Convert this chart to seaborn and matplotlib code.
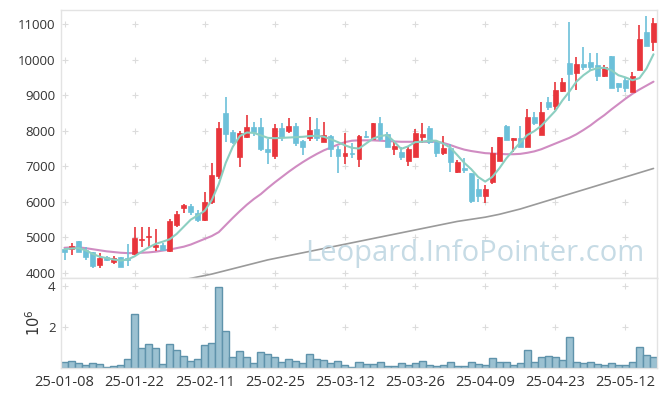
import numpy as np
import pandas as pd
import matplotlib
matplotlib.use("Agg")
import matplotlib.pyplot as plt
import seaborn as sns

# ---------------- data ----------------
tick_pos = [0, 10, 20, 30, 40, 50, 60, 70, 80]
tick_labels = ["25-01-08", "25-01-22", "25-02-11", "25-02-25", "25-03-12",
               "25-03-26", "25-04-09", "25-04-23", "25-05-12"]

opens = [4687, 4676, 4893, 4659, 4592, 4237, 4451, 4321, 4451, 4434,
         4527, 4940, 5014, 4732, 4780, 4620, 5363, 5842, 5887, 5701,
         5484, 6000, 6724, 8490, 7955, 7268, 7831, 8113, 8113, 7485,
         7296, 8068, 8000, 8132, 7710, 7803, 8048, 7690, 7851, 7485,
         7296, 7380, 7203, 7851, 7775, 8217, 7899, 7485, 7408, 7155,
         7268, 7831, 8085, 7673, 7380, 7521, 6845, 6958, 6817, 6358,
         6169, 6563, 7155, 8132, 7738, 7786, 7532, 8377, 7879, 8817,
         8696, 9127, 9898, 9617, 9879, 9944, 9851, 9549, 10104, 9352,
         9428, 9099, 9710, 10765, 10507]
highs = [4700, 4845, 4900, 4732, 4600, 4575, 4470, 4490, 4460, 4808,
         5296, 5296, 5296, 5239, 4850, 5530, 5740, 5930, 5940, 5760,
         6270, 7090, 8253, 8950, 8020, 8000, 8442, 8250, 8349, 7766,
         8200, 8230, 8370, 8230, 7730, 8377, 8350, 8253, 7880, 7560,
         7940, 7650, 7880, 7990, 8217, 8377, 7955, 7690, 7550, 7560,
         8040, 8230, 8130, 7740, 7850, 7640, 7170, 7220, 6817, 6650,
         6470, 7530, 7814, 8160, 7786, 8132, 8600, 8540, 8800, 8941,
         9380, 9470, 11070, 10085, 10349, 10200, 10180, 9850, 10104, 9352,
         9470, 9660, 10977, 11231, 11166]
lows = [4358, 4500, 4580, 4358, 4144, 4152, 4330, 4265, 4160, 4189,
        4500, 4732, 4732, 4620, 4639, 4590, 5290, 5700, 5640, 5440,
        5450, 5950, 6631, 7690, 7620, 6985, 7800, 7860, 7428, 7062,
        7200, 7720, 7950, 7560, 7330, 7700, 7700, 7690, 7250, 6817,
        7070, 7230, 6990, 7790, 7775, 7700, 7530, 7330, 7190, 7020,
        7250, 7650, 7640, 7270, 7330, 6845, 6800, 6820, 5970, 5990,
        5972, 6500, 7155, 7738, 7408, 7532, 7532, 8160, 7879, 8583,
        8583, 9100, 8845, 9146, 9700, 9700, 9400, 9520, 9211, 9100,
        9100, 9099, 9710, 10394, 10254]
closes = [4592, 4752, 4603, 4451, 4189, 4434, 4358, 4434, 4169, 4358,
          4997, 4955, 5042, 4780, 4639, 5456, 5653, 5899, 5718, 5484,
          6000, 6752, 8068, 7900, 7690, 7944, 8096, 7955, 7485, 7408,
          8068, 7831, 8132, 7643, 7549, 8020, 7803, 7879, 7485, 7296,
          7380, 7335, 7851, 7814, 8217, 7758, 7549, 7569, 7251, 7485,
          7944, 7907, 7690, 7380, 7503, 7127, 7127, 6893, 6028, 6169,
          6358, 7363, 7814, 7738, 7786, 7532, 8377, 8208, 8518, 8676,
          9146, 9380, 9597, 9879, 9803, 9803, 9549, 9785, 9211, 9239,
          9194, 9541, 10577, 10394, 11025]
volume_m = [0.28, 0.33, 0.23, 0.13, 0.23, 0.18, 0.03, 0.08, 0.13, 0.42,
            2.62, 0.96, 1.15, 0.96, 0.18, 1.15, 0.86, 0.57, 0.34, 0.42,
            1.10, 1.20, 3.95, 1.79, 0.52, 0.81, 0.52, 0.23, 0.76, 0.67,
            0.52, 0.28, 0.42, 0.33, 0.23, 0.67, 0.42, 0.37, 0.23, 0.33,
            0.13, 0.03, 0.28, 0.18, 0.18, 0.28, 0.08, 0.08, 0.23, 0.13,
            0.23, 0.33, 0.13, 0.08, 0.13, 0.28, 0.08, 0.08, 0.28, 0.18,
            0.13, 0.47, 0.28, 0.28, 0.13, 0.23, 0.86, 0.28, 0.52, 0.57,
            0.52, 0.37, 1.50, 0.28, 0.23, 0.28, 0.18, 0.13, 0.23, 0.13,
            0.13, 0.28, 1.01, 0.62, 0.52]
ma_short = [4670, 4690, 4700, 4640, 4540, 4460, 4420, 4380, 4350, 4380,
            4470, 4600, 4720, 4820, 4880, 4950, 5100, 5300, 5500, 5620,
            5750, 6050, 6500, 7100, 7550, 7850, 7950, 7940, 7870, 7800,
            7790, 7800, 7810, 7820, 7830, 7850, 7860, 7830, 7760, 7680,
            7590, 7520, 7500, 7640, 7780, 7850, 7880, 7700, 7490, 7560,
            7680, 7690, 7720, 7720, 7640, 7530, 7320, 7100, 6920, 6700,
            6570, 6700, 6940, 7220, 7450, 7670, 7880, 7990, 8140, 8350,
            8560, 8850, 9100, 9380, 9560, 9700, 9760, 9770, 9700, 9560,
            9500, 9420, 9480, 9750, 10150]
ma_mid = [4710, 4720, 4720, 4700, 4670, 4640, 4610, 4590, 4570, 4560,
          4560, 4570, 4580, 4600, 4630, 4660, 4700, 4740, 4800, 4880,
          4960, 5040, 5150, 5350, 5550, 5740, 5920, 6080, 6220, 6390,
          6550, 6700, 6850, 6990, 7120, 7240, 7350, 7450, 7530, 7610,
          7680, 7720, 7730, 7730, 7730, 7720, 7710, 7700, 7690, 7690,
          7690, 7690, 7690, 7690, 7660, 7600, 7530, 7470, 7430, 7400,
          7370, 7360, 7350, 7340, 7340, 7350, 7380, 7420, 7480, 7560,
          7640, 7720, 7800, 7900, 8020, 8150, 8300, 8440, 8600, 8750,
          8900, 9040, 9160, 9270, 9380]
ma_long = [np.nan] * 17 + [
    3810, 3850, 3890, 3930, 3970, 4020, 4070, 4120, 4170, 4220,
    4270, 4320, 4370, 4410, 4450, 4490, 4530, 4570, 4610, 4650,
    4690, 4730, 4770, 4810, 4850, 4890, 4930, 4970, 5010, 5050,
    5090, 5130, 5170, 5210, 5250, 5290, 5330, 5370, 5410, 5450,
    5480, 5510, 5540, 5570, 5610, 5650, 5700, 5750, 5800, 5860,
    5920, 5980, 6040, 6100, 6160, 6220, 6280, 6340, 6400, 6460,
    6520, 6580, 6640, 6700, 6760, 6820, 6880, 6940]

# ---------------- style ----------------
sns.set_theme(style="white")
plt.rcParams["font.family"] = ["Open Sans", "DejaVu Sans"]

UP = "#e8353b"
DOWN = "#6cc0d9"
GRID = "#dcdcdc"
SPINE = "#e3e3e3"

n = len(closes)
idx = np.arange(n)
df = pd.DataFrame({"idx": idx, "open": opens, "high": highs, "low": lows,
                   "close": closes, "vol": volume_m, "ma_s": ma_short,
                   "ma_m": ma_mid, "ma_l": ma_long})

fig = plt.figure(figsize=(6.65, 3.96), dpi=100)
ax = fig.add_axes([61 / 665, (396 - 278) / 396, (657 - 61) / 665, 268 / 396])
axv = fig.add_axes([61 / 665, (396 - 367.7) / 396, (657 - 61) / 665, 89.7 / 396], sharex=ax)

# moving averages
sns.lineplot(data=df, x="idx", y="ma_l", ax=ax, color="#9a9a9a", lw=1.2, zorder=2)
sns.lineplot(data=df, x="idx", y="ma_m", ax=ax, color="#d08cc2", lw=1.5, zorder=2)
sns.lineplot(data=df, x="idx", y="ma_s", ax=ax, color="#8ccfc1", lw=1.5, zorder=4)

# candles
up = df["close"] >= df["open"]
colors = np.where(up, UP, DOWN)
ax.vlines(df["idx"], df["low"], df["high"], colors=colors, lw=1.2, zorder=3)
body_bottom = np.minimum(df["open"], df["close"])
body_h = np.maximum(np.abs(df["close"] - df["open"]), 18)
ax.bar(df["idx"], body_h, bottom=body_bottom, width=0.7, color=colors,
       edgecolor=colors, linewidth=0.5, zorder=3)

# volume
sns.barplot(data=df, x="idx", y="vol", ax=axv, native_scale=True, width=1.0,
            color="#9bc1d1", edgecolor="#5f93ab", linewidth=1.0, saturation=1)

# axes ranges
ax.set_xlim(-0.5, n - 0.5)
ax.set_ylim(3860, 11395)
axv.set_ylim(0, 4.37)

price_ticks = [4000, 5000, 6000, 7000, 8000, 9000, 10000, 11000]
vol_ticks = [2, 4]
ax.set_yticks(price_ticks)
ax.set_yticklabels([str(t) for t in price_ticks])
axv.set_yticks(vol_ticks)
axv.set_yticklabels([str(t) for t in vol_ticks])
axv.set_xticks(tick_pos)
axv.set_xticklabels(tick_labels)
plt.setp(ax.get_xticklabels(), visible=False)

for a in (ax, axv):
    a.set_xlabel("")
    a.set_ylabel("")
    a.tick_params(axis="both", which="both", direction="inout", length=4,
                  width=0.8, color=GRID, labelsize=9.5, labelcolor="#333333", pad=2)
    for s in a.spines.values():
        s.set_color(SPINE)
        s.set_linewidth(1.0)
    a.grid(False)

ax.tick_params(axis="x", length=0)
axv.tick_params(axis="x", labelsize=10.5, pad=3)
axv.set_ylabel("$10^6$", fontsize=10.5, color="#333333", labelpad=3)

# cross-shaped grid markers
gx, gy = np.meshgrid(tick_pos, price_ticks)
ax.scatter(gx.ravel(), gy.ravel(), marker="+", s=22, color=GRID, lw=0.8, zorder=1)
gx2, gy2 = np.meshgrid(tick_pos, vol_ticks)
axv.scatter(gx2.ravel(), gy2.ravel(), marker="+", s=22, color=GRID, lw=0.8, zorder=0)

# watermark
fig.text(475 / 665, 1 - 254 / 396, "Leopard.InfoPointer.com", ha="center", va="center",
         fontsize=21, color="#c6dbe5", family=["Open Sans", "DejaVu Sans"], zorder=10)

fig.savefig("out.png", dpi=100)
